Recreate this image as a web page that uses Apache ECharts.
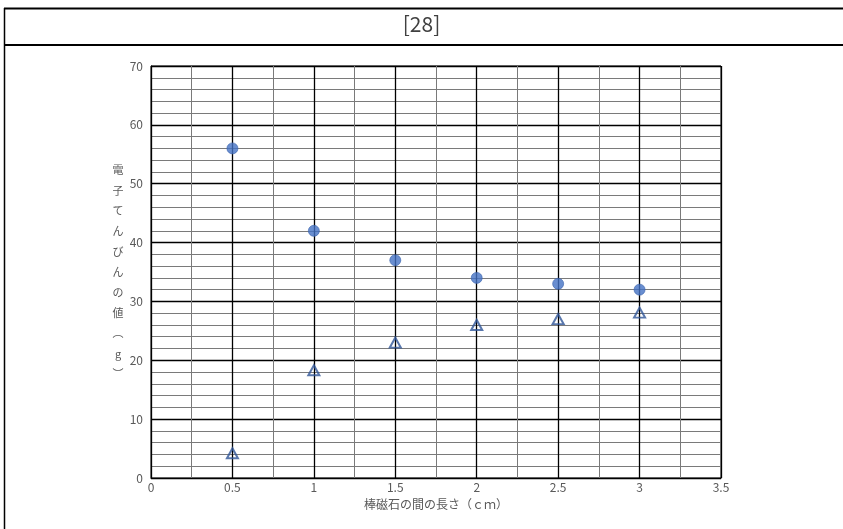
<!DOCTYPE html>
<html>
<head>
<meta charset="utf-8">
<script src="https://cdn.jsdelivr.net/npm/echarts@6/dist/echarts.min.js"></script>
<style>
html,body{margin:0;padding:0;background:#fff;}
#c{width:843px;height:529px;}
</style>
</head>
<body>
<div id="c"></div>
<script>
const titleText = '[28]';
const xName = '棒磁石の間の長さ（ｃｍ）';
const yNameChars = ['電','子','て','ん','び','ん','の','値','︵','g','︶'];
const xValues = [0.5, 1.0, 1.5, 2.0, 2.5, 3.0];
const circleValues = [56, 42, 37, 34, 33, 32];
const triangleValues = [4.2, 18.3, 23, 26, 27, 28.1];

const chart = echarts.init(document.getElementById('c'));
const font = '"Noto Sans CJK JP", "Noto Sans", sans-serif';

const option = {
  animation: false,
  backgroundColor: '#fff',
  textStyle: {fontFamily: font},
  grid: {left: 151, right: 122, top: 66, bottom: 51, show: true, borderColor: '#000', borderWidth: 1, backgroundColor: 'transparent', containLabel: false},
  xAxis: [
    {type: 'value', position: 'bottom', min: 0, max: 3.5, interval: 0.25,
     axisLine: {show: false}, axisTick: {show: false}, axisLabel: {show: false},
     splitLine: {show: true, lineStyle: {color: '#7a7a7a', width: 1}}},
    {type: 'value', position: 'bottom', min: 0, max: 3.5, interval: 0.5,
     axisLine: {show: true, onZero: false, lineStyle: {color: '#000', width: 1}}, axisTick: {show: false},
     axisLabel: {color: '#595959', fontSize: 12, margin: 3, fontFamily: font},
     splitLine: {show: true, lineStyle: {color: '#000', width: 1.3}}}
  ],
  yAxis: [
    {type: 'value', position: 'left', min: 0, max: 70, interval: 2,
     axisLine: {show: false}, axisTick: {show: false}, axisLabel: {show: false},
     splitLine: {show: true, lineStyle: {color: '#7a7a7a', width: 1}}},
    {type: 'value', position: 'left', min: 0, max: 70, interval: 10,
     axisLine: {show: true, onZero: false, lineStyle: {color: '#000', width: 1}}, axisTick: {show: false},
     axisLabel: {color: '#595959', fontSize: 12, margin: 8, fontFamily: font},
     splitLine: {show: true, lineStyle: {color: '#000', width: 1.3}}}
  ],
  graphic: [
    {type: 'line', shape: {x1: 4, y1: 8.5, x2: 843, y2: 8.5}, style: {stroke: '#000', lineWidth: 2}},
    {type: 'line', shape: {x1: 4, y1: 45, x2: 843, y2: 45}, style: {stroke: '#000', lineWidth: 2}},
    {type: 'line', shape: {x1: 4.5, y1: 8, x2: 4.5, y2: 529}, style: {stroke: '#000', lineWidth: 1.5}},
    {type: 'text', left: 'center', top: 14, style: {text: titleText, font: '21px ' + font, fill: '#404040'}},
    {type: 'text', x: 118, y: 272, style: {text: yNameChars.join('\n'), font: '11px ' + font, lineHeight: 20.4, fill: '#595959', align: 'center', verticalAlign: 'middle'}},
    {type: 'text', x: 436, y: 504, style: {text: xName, font: '12px ' + font, fill: '#595959', align: 'center', verticalAlign: 'middle'}}
  ],
  series: [
    {type: 'scatter', xAxisIndex: 1, yAxisIndex: 1, symbol: 'circle', symbolSize: 11,
     itemStyle: {color: '#4472C4', borderColor: '#3A63AD', borderWidth: 0.8},
     data: xValues.map((x, i) => [x, circleValues[i]])},
    {type: 'scatter', xAxisIndex: 1, yAxisIndex: 1, symbol: 'triangle', symbolSize: [11, 10],
     itemStyle: {color: 'rgba(255,255,255,0)', borderColor: '#2F5597', borderWidth: 2},
     data: xValues.map((x, i) => [x, triangleValues[i]])}
  ]
};
chart.setOption(option);
</script>
</body>
</html>
